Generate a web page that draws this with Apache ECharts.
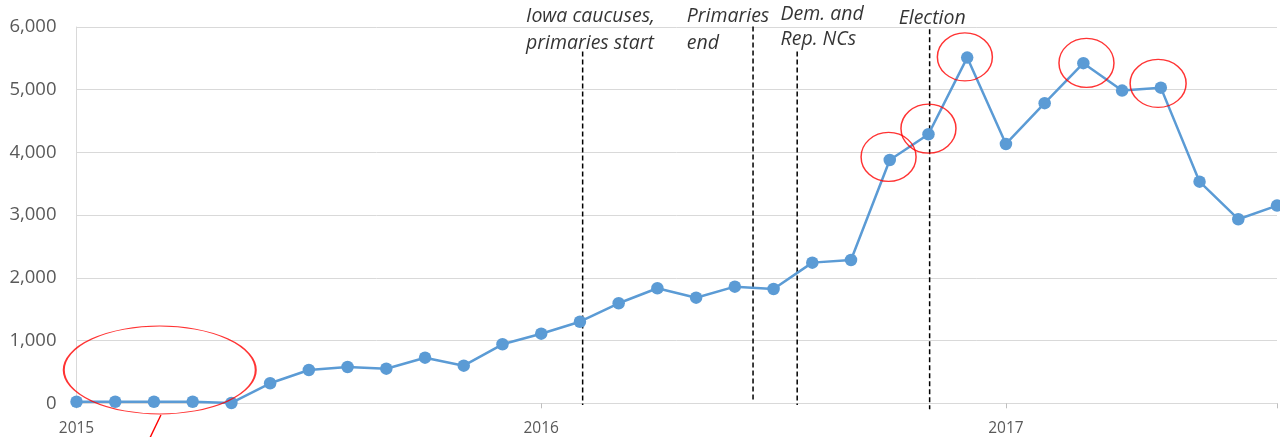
<!DOCTYPE html>
<html>
<head>
<meta charset="utf-8">
<script src="https://cdn.jsdelivr.net/npm/echarts@6/dist/echarts.min.js"></script>
<style>
html,body{margin:0;padding:0;background:#fff;}
#c{width:1280px;height:437px;}
</style>
</head>
<body>
<div id="c"></div>
<script>
// ---- data ----
const months = ['2015-01','2015-02','2015-03','2015-04','2015-05','2015-06','2015-07','2015-08','2015-09','2015-10','2015-11','2015-12',
  '2016-01','2016-02','2016-03','2016-04','2016-05','2016-06','2016-07','2016-08','2016-09','2016-10','2016-11','2016-12',
  '2017-01','2017-02','2017-03','2017-04','2017-05','2017-06','2017-07','2017-08'];
const values = [25,25,25,25,5,319,531,579,552,727,600,941,
  1110,1301,1595,1834,1684,1860,1823,2243,2285,3880,4290,5512,
  4135,4785,5423,4986,5033,3534,2935,3152];
const yearLabels = ['2015','2016','2017'];
const yTicks = [0,1000,2000,3000,4000,5000,6000];
// event lines: month index (fractional) and vertical span in data units
const eventNames = ['Iowa caucuses, primaries start','Primaries end','Dem. and Rep. NCs','Election'];
const eventX = [13.07, 17.47, 18.61, 22.03];
const eventTop = [5608, 6006, 5608, 5965];
const eventBottom = [-27, 53, -27, -96];
// annotation texts (anchored in data coordinates)
const noteTexts = ['Iowa caucuses,\nprimaries start','Primaries\nend','Dem. and\nRep. NCs','Election'];
const noteX = [11.61, 15.76, 18.18, 21.23];
const noteY = [5960, 5960, 6000, 6138];
const noteLineHeight = [27, 27, 25, 20];
// highlight ellipses: centre in data coordinates and size in px
const ellipseX = [2.15, 20.97, 22.0, 22.94, 26.08, 27.93];
const ellipseY = [531, 3928, 4380, 5523, 5427, 5100];
const ellipseSize = [[192,88],[55,49],[55,49],[55,48],[55,49],[56,48]];
// pointer from big ellipse
const pointerLine = [[2.18,-187],[1.87,-585]];

const chart = echarts.init(document.getElementById('c'));
const series = [];
series.push({
  type:'line',
  data: values.map((v,i)=>[i,v]),
  symbol:'circle', symbolSize:12.5,
  itemStyle:{color:'#5B9BD5'},
  lineStyle:{color:'#5B9BD5', width:2.5},
  z:3, animation:false
});
eventX.forEach((x,i)=>{
  series.push({
    type:'line', name:eventNames[i],
    data:[[x,eventTop[i]],[x,eventBottom[i]]],
    symbol:'none', clip:false, silent:true,
    lineStyle:{color:'#000', width:1.5, type:[5,3]},
    z:2, animation:false
  });
});
ellipseX.forEach((x,i)=>{
  series.push({
    type:'scatter', clip:false, silent:true,
    data:[[x, ellipseY[i]]],
    symbol:'circle', symbolSize: ellipseSize[i],
    itemStyle:{color:'rgba(0,0,0,0)', borderColor:'#FF0000', borderWidth:1.4},
    z:4, animation:false
  });
});
series.push({
  type:'line', data:pointerLine, symbol:'none', clip:false, silent:true,
  lineStyle:{color:'#FF0000', width:1.4}, z:4, animation:false
});
noteTexts.forEach((t,i)=>{
  series.push({
    type:'scatter', clip:false, silent:true,
    data:[[noteX[i], noteY[i]]],
    symbolSize:0,
    label:{show:true, position:'right', distance:0, formatter:t,
      fontFamily:'Open Sans', fontStyle:'italic', fontSize:19.5, color:'#000',
      lineHeight:noteLineHeight[i], align:'left', verticalAlign:'middle'},
    animation:false
  });
});

chart.setOption({
  animation:false,
  grid:{left:76.5, right:1, top:27, bottom:33.7, containLabel:false},
  xAxis:{
    type:'value', min:0, max:months.length-1, interval:12,
    axisLine:{show:true, lineStyle:{color:'#D9D9D9', width:1}},
    axisTick:{show:true, length:5, lineStyle:{color:'#BFBFBF'}},
    splitLine:{show:false},
    axisLabel:{color:'#595959', fontFamily:'Open Sans', fontSize:15.5, margin:17,
      formatter:(v)=> (v%12===0 && yearLabels[v/12]) ? yearLabels[v/12] : ''}
  },
  yAxis:{
    type:'value', min:yTicks[0], max:yTicks[yTicks.length-1], interval:1000,
    axisLine:{show:true, lineStyle:{color:'#D9D9D9', width:1}},
    axisTick:{show:false},
    splitLine:{show:true, lineStyle:{color:'#D9D9D9', width:1}},
    axisLabel:{color:'#595959', fontFamily:'Open Sans', fontSize:18.5, margin:20,
      formatter:(v)=> v.toLocaleString('en-US')}
  },
  series: series
});
</script>
</body>
</html>
